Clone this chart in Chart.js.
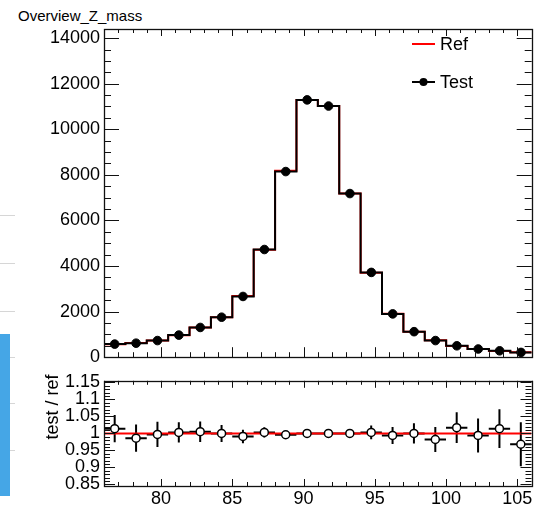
<!DOCTYPE html>
<html>
<head>
<meta charset="utf-8">
<title>Overview_Z_mass</title>
<script src="https://cdn.jsdelivr.net/npm/chart.js@4.4.0/dist/chart.umd.min.js"></script>
<style>
  html, body { margin: 0; padding: 0; background: #fff; }
  body { width: 537px; height: 506px; position: relative; overflow: hidden;
         font-family: "Liberation Sans", Arial, sans-serif; }
  #title { position: absolute; left: 18px; top: 7px; font-size: 15px; line-height: 18px; color: #000; }
  .side-line { position: absolute; left: 0; width: 15px; height: 1px; background: #d6d6d6; z-index: 5; }
  #sideBar { position: absolute; left: 0; top: 334px; width: 10px; height: 162px; background: #45a6e6; z-index: 6; }
  #mainWrap { position: absolute; left: 0; top: 0; width: 537px; height: 372px; }
  #ratioWrap { position: absolute; left: 0; top: 366px; width: 537px; height: 140px; }
</style>
</head>
<body>
<div id="title">Overview_Z_mass</div>
<div id="mainWrap"><canvas id="mainChart" width="537" height="372"></canvas></div>
<div id="ratioWrap"><canvas id="ratioChart" width="537" height="140"></canvas></div>
<div class="side-line" style="top:215px"></div>
<div class="side-line" style="top:263px"></div>
<div class="side-line" style="top:311px"></div>
<div class="side-line" style="top:357px"></div>
<div class="side-line" style="top:403px"></div>
<div class="side-line" style="top:450px"></div>
<div id="sideBar"></div>

<script>
/* ===============================
   DATA
   =============================== */
const binEdges = [76, 77.5, 79, 80.5, 82, 83.5, 85, 86.5, 88, 89.5, 91,
                  92.5, 94, 95.5, 97, 98.5, 100, 101.5, 103, 104.5, 106];

const refCounts  = [567, 624, 732, 967, 1298, 1755, 2689, 4711, 8178, 11290,
                    11020, 7180, 3709, 1911, 1120, 743, 492, 362, 276, 217];
const testCounts = [575, 615, 730, 970, 1305, 1755, 2665, 4725, 8145, 11290,
                    11020, 7180, 3720, 1900, 1120, 730, 500, 360, 280, 210];

const ratioValues = [1.014, 0.986, 0.997, 1.003, 1.005, 1.0, 0.991, 1.003, 0.996, 1.0,
                     1.0, 1.0, 1.003, 0.994, 1.0, 0.982, 1.017, 0.994, 1.014, 0.968];
const ratioErrors = [0.04, 0.04, 0.037, 0.03, 0.03, 0.025, 0.02, 0.015, 0.01, 0.007,
                     0.007, 0.01, 0.02, 0.025, 0.03, 0.037, 0.045, 0.05, 0.057, 0.065];

const xTickValues     = [80, 85, 90, 95, 100, 105];
const mainTickValues  = [0, 2000, 4000, 6000, 8000, 10000, 12000, 14000];
const ratioTickValues = [0.85, 0.9, 0.95, 1, 1.05, 1.1, 1.15];

const FONT = "'Liberation Sans', Arial, sans-serif";

/* ===============================
   HELPERS
   =============================== */
function stepData(counts) {
  const pts = counts.map((v, i) => ({ x: binEdges[i], y: v }));
  pts.push({ x: binEdges[binEdges.length - 1], y: counts[counts.length - 1] });
  return pts;
}

function centerData(values) {
  return values.map((v, i) => ({ x: (binEdges[i] + binEdges[i + 1]) / 2, y: v }));
}

// ROOT-like frame with inward ticks
function drawFrame(chart, o) {
  const { ctx, chartArea: a, scales } = chart;
  const xs = scales.x, ys = scales.y;
  ctx.save();
  ctx.strokeStyle = "#111";
  ctx.lineWidth = 1;
  ctx.beginPath();
  // x ticks (bottom + top)
  for (let v = Math.ceil(xs.min); v <= xs.max; v += 1) {
    const px = Math.round(xs.getPixelForValue(v)) + 0.5;
    const major = v % 5 === 0;
    const lb = major ? o.xMajor : o.xMinor;
    const lt = major ? o.xTopMajor : o.xTopMinor;
    ctx.moveTo(px, a.bottom); ctx.lineTo(px, a.bottom - lb);
    ctx.moveTo(px, a.top); ctx.lineTo(px, a.top + lt);
  }
  // y ticks (left + right)
  const n = Math.round((o.yMaxTick - o.yMinTick) / o.yMinorStep);
  for (let k = 0; k <= n; k++) {
    const v = o.yMinTick + k * o.yMinorStep;
    if (v > ys.max || v < ys.min) continue;
    const py = Math.round(ys.getPixelForValue(v)) + 0.5;
    const major = Math.abs(v / o.yMajorStep - Math.round(v / o.yMajorStep)) < 1e-6;
    const l = major ? o.yMajor : o.yMinor;
    ctx.moveTo(a.left, py); ctx.lineTo(a.left + l, py);
    ctx.moveTo(a.right, py); ctx.lineTo(a.right - l, py);
  }
  ctx.stroke();
  ctx.lineWidth = 1.3;
  ctx.strokeRect(Math.round(a.left) + 0.5, Math.round(a.top) + 0.5,
                 Math.round(a.right - a.left), Math.round(a.bottom - a.top));
  ctx.restore();
}

/* ===============================
   MAIN PANEL
   =============================== */
const mainPlugin = {
  id: "mainFrame",
  afterDraw(chart) {
    drawFrame(chart, {
      xMajor: 10, xMinor: 5, xTopMajor: 7, xTopMinor: 4,
      yMinTick: 0, yMaxTick: 14500, yMinorStep: 500, yMajorStep: 2000,
      yMajor: 15, yMinor: 7
    });
    // legend
    const ctx = chart.ctx;
    ctx.save();
    ctx.lineWidth = 2;
    ctx.strokeStyle = "#ff0000";
    ctx.beginPath(); ctx.moveTo(412, 44); ctx.lineTo(435, 44); ctx.stroke();
    ctx.strokeStyle = "#000";
    ctx.beginPath(); ctx.moveTo(412, 82); ctx.lineTo(435, 82); ctx.stroke();
    ctx.fillStyle = "#000";
    ctx.beginPath(); ctx.arc(423.5, 82, 4, 0, Math.PI * 2); ctx.fill();
    ctx.font = "18px " + FONT;
    ctx.textBaseline = "middle";
    ctx.fillText("Ref", 440, 45);
    ctx.fillText("Test", 440, 83);
    ctx.restore();
  }
};

new Chart(document.getElementById("mainChart"), {
  type: "line",
  data: {
    datasets: [
      {
        label: "Test points",
        type: "scatter",
        data: centerData(testCounts),
        pointRadius: 4.3,
        pointHoverRadius: 4.3,
        pointBackgroundColor: "#000",
        pointBorderColor: "#000",
        order: 0
      },
      {
        label: "Test",
        data: stepData(testCounts),
        stepped: true,
        borderColor: "#000",
        borderWidth: 2,
        pointRadius: 0,
        fill: false,
        order: 1
      },
      {
        label: "Ref",
        data: stepData(refCounts),
        stepped: true,
        borderColor: "#ff0000",
        borderWidth: 2,
        pointRadius: 0,
        fill: false,
        order: 2
      }
    ]
  },
  options: {
    responsive: false,
    animation: false,
    events: [],
    layout: { padding: { left: 0, right: 4, top: 29, bottom: 10 } },
    plugins: { legend: { display: false }, tooltip: { enabled: false } },
    scales: {
      x: { type: "linear", min: 76, max: 106, display: false },
      y: {
        min: 0,
        max: 14400,
        afterFit: s => { s.width = 104; },
        afterBuildTicks: s => { s.ticks = mainTickValues.map(v => ({ value: v })); },
        grid: { display: false, drawTicks: false },
        border: { display: false },
        ticks: {
          padding: 4,
          color: "#000",
          font: { family: FONT, size: 18 },
          callback: v => String(v)
        }
      }
    }
  },
  plugins: [mainPlugin]
});

/* ===============================
   RATIO PANEL
   =============================== */
const ratioPlugin = {
  id: "ratioFrame",
  beforeDatasetsDraw(chart) {
    const { ctx, scales } = chart;
    ctx.save();
    ctx.strokeStyle = "#000";
    ctx.lineWidth = 2;
    ctx.beginPath();
    ratioValues.forEach((v, i) => {
      const x0 = scales.x.getPixelForValue(binEdges[i]);
      const x1 = scales.x.getPixelForValue(binEdges[i + 1]);
      const xc = (x0 + x1) / 2;
      const y = scales.y.getPixelForValue(v);
      ctx.moveTo(x0, y); ctx.lineTo(x1, y);
      ctx.moveTo(xc, scales.y.getPixelForValue(v + ratioErrors[i]));
      ctx.lineTo(xc, scales.y.getPixelForValue(v - ratioErrors[i]));
    });
    ctx.stroke();
    ctx.restore();
  },
  afterDraw(chart) {
    drawFrame(chart, {
      xMajor: 7, xMinor: 4, xTopMajor: 7, xTopMinor: 4,
      yMinTick: 0.85, yMaxTick: 1.15, yMinorStep: 0.01, yMajorStep: 0.05,
      yMajor: 11, yMinor: 6
    });
    const ctx = chart.ctx;
    ctx.save();
    ctx.translate(53, 41);
    ctx.rotate(-Math.PI / 2);
    ctx.font = "18px " + FONT;
    ctx.fillStyle = "#000";
    ctx.textAlign = "center";
    ctx.textBaseline = "middle";
    ctx.fillText("test / ref", 0, 0);
    ctx.restore();
  }
};

new Chart(document.getElementById("ratioChart"), {
  type: "line",
  data: {
    datasets: [
      {
        label: "ratio",
        type: "scatter",
        data: centerData(ratioValues),
        pointRadius: 4,
        pointHoverRadius: 4,
        pointBackgroundColor: "#fff",
        pointBorderColor: "#000",
        pointBorderWidth: 1.5,
        order: 0
      },
      {
        label: "unity",
        data: [{ x: binEdges[0], y: 1 }, { x: binEdges[binEdges.length - 1], y: 1 }],
        borderColor: "#ff0000",
        borderWidth: 2,
        pointRadius: 0,
        fill: false,
        order: 1
      }
    ]
  },
  options: {
    responsive: false,
    animation: false,
    events: [],
    layout: { padding: { left: 0, right: 4, top: 7, bottom: 0 } },
    plugins: { legend: { display: false }, tooltip: { enabled: false } },
    scales: {
      x: {
        type: "linear",
        min: 76,
        max: 106,
        afterFit: s => { s.height = 20; },
        afterBuildTicks: s => { s.ticks = xTickValues.map(v => ({ value: v })); },
        grid: { display: false, drawTicks: false },
        border: { display: false },
        ticks: {
          padding: 2,
          color: "#000",
          maxRotation: 0,
          autoSkip: false,
          font: { family: FONT, size: 18 },
          callback: v => String(v)
        }
      },
      y: {
        min: 0.845,
        max: 1.155,
        afterFit: s => { s.width = 104; },
        afterBuildTicks: s => { s.ticks = ratioTickValues.map(v => ({ value: v })); },
        grid: { display: false, drawTicks: false },
        border: { display: false },
        ticks: {
          padding: 4,
          color: "#000",
          autoSkip: false,
          font: { family: FONT, size: 18 },
          callback: v => String(+v.toFixed(2))
        }
      }
    }
  },
  plugins: [ratioPlugin]
});
</script>
</body>
</html>
